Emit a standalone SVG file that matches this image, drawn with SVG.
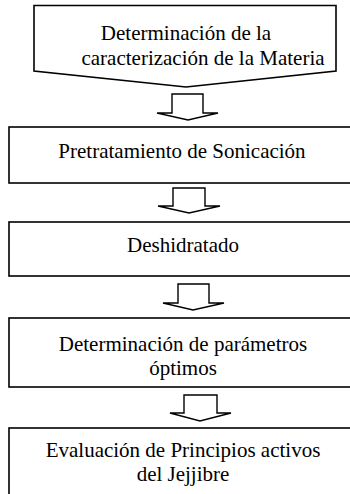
<svg xmlns="http://www.w3.org/2000/svg" width="350" height="494" viewBox="0 0 350 494">
<style>
.box{fill:#fff;stroke:#000;stroke-width:1.6}
.arr{fill:#fff;stroke:#000;stroke-width:1.4;stroke-linejoin:miter}
text{font-family:"Liberation Serif","Times New Roman",serif;font-size:21px;fill:#000;text-anchor:middle}
</style>
<rect width="350" height="494" fill="#fff"/>
<g id="n1">
<polygon class="box" points="34,5.5 336,5.5 336,71 186,87 34,71"/>
<text x="186" y="40">Determinación de la</text>
<text x="203" y="65">caracterización de la Materia</text>
</g>
<g id="n2">
<rect class="box" x="9" y="127" width="360" height="56"/>
<text x="182" y="158">Pretratamiento de Sonicación</text>
</g>
<g id="n3">
<rect class="box" x="9" y="222" width="360" height="54"/>
<text x="183" y="252">Deshidratado</text>
</g>
<g id="n4">
<rect class="box" x="9" y="318" width="360" height="69"/>
<text x="183" y="351">Determinación de parámetros</text>
<text x="183" y="375">óptimos</text>
</g>
<g id="n5">
<rect class="box" x="9" y="428" width="360" height="80"/>
<text x="183" y="457">Evaluación de Principios activos</text>
<text x="183" y="481">del Jejjibre</text>
</g>
<g id="connectors">
<polygon class="arr" points="172,94 203,94 203,113 218,113 188,120 157,113 172,113"/>
<polygon class="arr" points="173,188 205,188 205,206 220,206 189,213 158,206 173,206"/>
<polygon class="arr" points="178,284 209,284 209,303 224,303 193,310 163,303 178,303"/>
<polygon class="arr" points="184,395 217,395 217,413 231,413 200,421 170,413 184,413"/>
</g>
</svg>
